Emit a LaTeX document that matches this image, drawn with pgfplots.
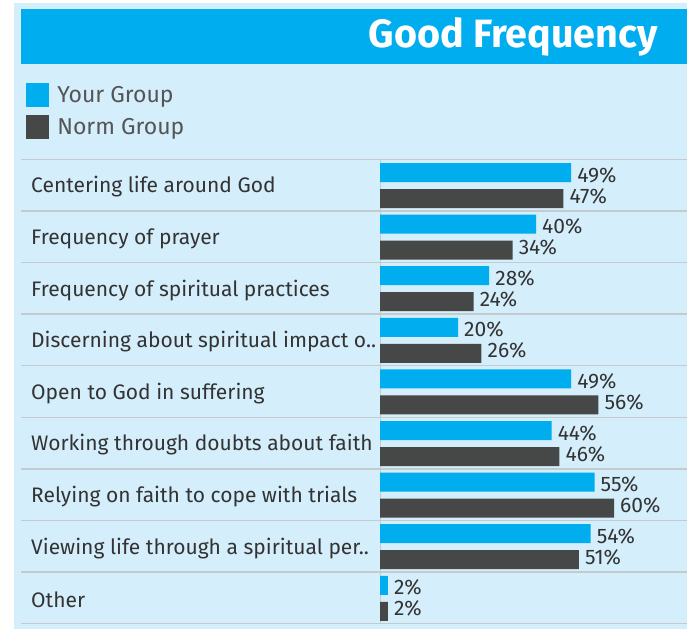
\documentclass[border=0pt]{standalone}
\usepackage{fontspec}
\setmainfont{Fira Sans}
\usepackage{pgfplots}
\pgfplotsset{compat=1.18}
\definecolor{yourblue}{HTML}{00ADEF}
\definecolor{normgrey}{HTML}{464747}
\definecolor{panel}{HTML}{D4EEFB}
\definecolor{sepline}{HTML}{C4CBCF}
\definecolor{txt}{HTML}{333333}
\definecolor{legtxt}{HTML}{555555}

\begin{document}
\begin{tikzpicture}
\useasboundingbox (0,0) rectangle (687pt,629pt);
% background, title bar, row lines and row labels (pixel grid, y downwards)
\begin{scope}[x=1pt,y=-1pt,yshift=629pt]
  \fill[white] (0,0) rectangle (687,629);
  \fill[panel] (14,3) rectangle (687,629);
  \fill[yourblue] (21,9) rectangle (687,64);
  \node[anchor=east,text=white,inner sep=0pt,font=\fontsize{39.5}{39.5}\selectfont\bfseries] at (658,37) {Good Frequency};
  \foreach \i in {0,...,9}
    \draw[sepline,line width=1.4pt] (21,{159.3+51.6*\i}) -- (687,{159.3+51.6*\i});
  \draw[sepline,line width=0.8pt] (380,159.3) -- (380,623.7);
  \foreach \lab [count=\i from 0] in {Centering life around God,Frequency of prayer,Frequency of spiritual practices,Discerning about spiritual impact o..,Open to God in suffering,Working through doubts about faith,Relying on faith to cope with trials,Viewing life through a spiritual per..,Other}
    \node[anchor=west,inner sep=0pt,text=txt,font=\fontsize{21}{21}\selectfont] at (31,{187+51.6*\i}) {\lab};
\end{scope}

\begin{axis}[
    at={(0pt,0pt)}, anchor=south west,
    width=687pt, height=629pt, scale only axis,
    xmin=-97.436, xmax=78.718,
    ymin=0, ymax=629, y dir=reverse,
    hide axis, clip=false,
    xbar, bar width=19pt,
    point meta=x,
    /pgf/number format/assume math mode=true,
    nodes near coords={\pgfmathprintnumber{\pgfplotspointmeta}\%},
    every node near coord/.style={anchor=west,inner sep=0pt,xshift=6pt,text=txt,font=\fontsize{21}{21}\selectfont},
    legend style={at={(0.038,0.868)}, anchor=north west, draw=none, fill=none,
        font=\fontsize{23}{23}\selectfont, text=legtxt, row sep=8pt,
        inner sep=0pt, cells={anchor=west}},
    legend image code/.code={\fill[#1,draw=none] (0pt,-12pt) rectangle (23pt,12pt);},
]
\addplot[fill=yourblue, draw=none, bar shift=0pt,
    every node near coord/.append style={yshift=-2.5pt}] coordinates {
    (49,172.5) (40,224.1) (28,275.7) (20,327.3) (49,378.9)
    (44,430.5) (55,482.1) (54,533.7) (2,585.3)
};
\addlegendentry{\hspace{6pt}Your Group}
\addplot[fill=normgrey, draw=none, bar shift=0pt,
    every node near coord/.append style={yshift=2.5pt}] coordinates {
    (47,198.5) (34,250.1) (24,301.7) (26,353.3) (56,404.9)
    (46,456.5) (60,508.1) (51,559.7) (2,611.3)
};
\addlegendentry{\hspace{6pt}Norm Group}
\end{axis}
\end{tikzpicture}
\end{document}
